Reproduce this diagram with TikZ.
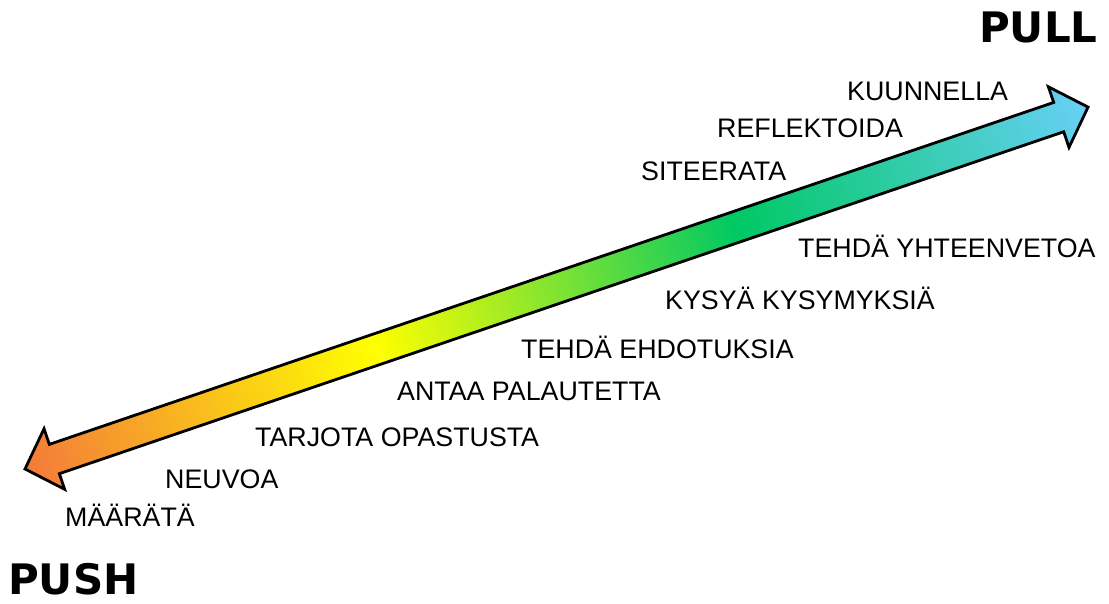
\documentclass[tikz,border=0pt]{standalone}
\usepackage{fontspec}
\setmainfont{Liberation Sans}
\newfontfamily\headfont{DejaVu Sans}
\definecolor{cOrange}{HTML}{F37A3A}
\definecolor{cYellow}{HTML}{FFFF00}
\definecolor{cGreen}{HTML}{00C864}
\definecolor{cBlue}{HTML}{68D0F6}
\pgfdeclarehorizontalshading{arrowshade}{100bp}{color(0bp)=(cOrange); color(25bp)=(cOrange); color(41.5bp)=(cYellow); color(58.5bp)=(cGreen); color(75bp)=(cBlue); color(100bp)=(cBlue)}
\begin{document}
\begin{tikzpicture}[x=1pt,y=-1pt,
  lbl/.style={anchor=base west,inner sep=0pt,font=\fontsize{26.8}{30}\selectfont},
  big/.style={anchor=base west,inner sep=0pt,font=\headfont\bfseries\fontsize{42}{46}\selectfont},
  arrowbody/.style={draw=black,line width=2.8pt,shading=arrowshade,line join=miter}]
\useasboundingbox (0,0) rectangle (1109,603);
% double-headed block arrow
\begin{scope}[transform canvas={shift={(25,469)},rotate=18.8}]
  \path[arrowbody] (0,0) -- (31,32) -- (31,15.5) -- (1092,15.5) -- (1092,32) -- (1123,0)
     -- (1092,-32) -- (1092,-15.5) -- (31,-15.5) -- (31,-32) -- cycle;
\end{scope}
% labels
\node[big] (pull) at (979,42) {PULL};
\node[big] (push) at (8,594) {PUSH};
\node[lbl] (t1) at (847,100) {KUUNNELLA};
\node[lbl] (t2) at (717,137.5) {REFLEKTOIDA};
\node[lbl] (t3) at (641,180) {SITEERATA};
\node[lbl] (t4) at (798,257.5) {TEHDÄ YHTEENVETOA};
\node[lbl] (t5) at (665,309.5) {KYSYÄ KYSYMYKSIÄ};
\node[lbl] (t6) at (521,358) {TEHDÄ EHDOTUKSIA};
\node[lbl] (t7) at (397,400) {ANTAA PALAUTETTA};
\node[lbl] (t8) at (255,446) {TARJOTA OPASTUSTA};
\node[lbl] (t9) at (165,488) {NEUVOA};
\node[lbl] (t10) at (65,526) {MÄÄRÄTÄ};
\end{tikzpicture}
\end{document}
